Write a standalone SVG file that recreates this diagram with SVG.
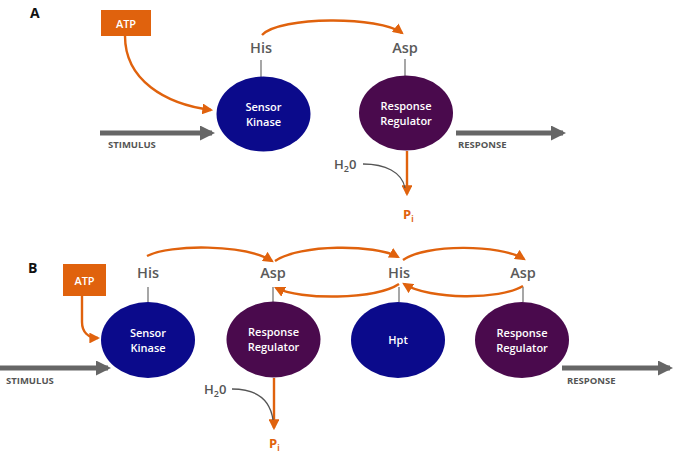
<svg xmlns="http://www.w3.org/2000/svg" width="677" height="456" viewBox="0 0 677 456">
<style>
.lbl{font-family:"Open Sans","Liberation Sans",sans-serif;font-weight:600;fill:#5a5a5a;font-size:14.5px;text-anchor:middle}
.nt{font-family:"Open Sans","Liberation Sans",sans-serif;font-weight:600;fill:#fff;font-size:11px;text-anchor:middle}
.cap{font-family:"Open Sans","Liberation Sans",sans-serif;font-weight:700;fill:#111;font-size:14px}
.io{font-family:"Open Sans","Liberation Sans",sans-serif;font-weight:700;fill:#555;font-size:9.5px}
.h2o{font-family:"Open Sans","Liberation Sans",sans-serif;font-weight:600;fill:#555;font-size:13px}
.pi{font-family:"Open Sans","Liberation Sans",sans-serif;font-weight:700;fill:#E0620D;font-size:13px}
.atp{font-family:"Open Sans","Liberation Sans",sans-serif;font-weight:600;fill:#fff;font-size:11px;text-anchor:middle}
.sk{fill:#0B0A8B}
.rr{fill:#4A0A4D}
.box{fill:#E0620D}
.o{fill:none;stroke:#E0620D;stroke-width:2.4}
.g{fill:none;stroke:#666;stroke-width:5}
.gt{fill:none;stroke:#555;stroke-width:1.3}
.tick{stroke:#777;stroke-width:1.3}
</style>
<defs>
<marker id="oa" viewBox="0 0 10 10" refX="8" refY="5" markerWidth="4.5" markerHeight="4.5" orient="auto" markerUnits="strokeWidth"><path d="M0,0 L10,5 L0,10 z" fill="#E0620D"/></marker>
<marker id="ga" viewBox="0 0 10 10" refX="8" refY="5" markerWidth="3.2" markerHeight="3" orient="auto" markerUnits="strokeWidth"><path d="M0,0 L10,5 L0,10 z" fill="#666"/></marker>
</defs>

<text class="cap" x="30" y="18">A</text>
<text class="cap" x="28" y="273">B</text>

<g id="connectors">
<!-- Panel A -->
<path class="o" d="M125,36 C125,80 165,104 211,110" marker-end="url(#oa)"/>
<path class="g" d="M100,133 L212,133" marker-end="url(#ga)"/>
<path class="g" d="M456,133 L563,133" marker-end="url(#ga)"/>
<path class="o" d="M262,35 C280,16 380,16 402,33" marker-end="url(#oa)"/>
<path class="o" d="M407,151 L407,194" marker-end="url(#oa)"/>
<path class="gt" d="M363,164 C385,164 402,172 405,188"/>
<line class="tick" x1="261" y1="60" x2="261" y2="77"/>
<line class="tick" x1="405" y1="59" x2="405" y2="76"/>
<!-- Panel B -->
<path class="o" d="M82,296 L82,322 C82,332 88,338 98,338" marker-end="url(#oa)"/>
<path class="g" d="M0,368 L108,368" marker-end="url(#ga)"/>
<path class="g" d="M562,368 L670,368" marker-end="url(#ga)"/>
<path class="o" d="M147,256 C170,244 245,244 272,261" marker-end="url(#oa)"/>
<path class="o" d="M275,261 C300,244 375,244 398,257" marker-end="url(#oa)"/>
<path class="o" d="M403,260 C425,244 500,244 524,259" marker-end="url(#oa)"/>
<path class="o" d="M399,284 C375,300 300,300 276,288" marker-end="url(#oa)"/>
<path class="o" d="M523,286 C500,300 430,300 404,284" marker-end="url(#oa)"/>
<path class="o" d="M274,378 L274,428" marker-end="url(#oa)"/>
<path class="gt" d="M232,389 C255,389 270,398 273,420"/>
<line class="tick" x1="148" y1="287" x2="148" y2="302"/>
<line class="tick" x1="273" y1="287" x2="273" y2="302"/>
<line class="tick" x1="399" y1="287" x2="399" y2="302"/>
<line class="tick" x1="523" y1="287" x2="523" y2="302"/>
</g>

<g id="atpA"><rect class="box" x="101" y="10" width="50" height="26"/><text class="atp" x="126" y="28">ATP</text></g>
<g id="skA"><ellipse class="sk" cx="263.5" cy="114" rx="47" ry="37.5"/><text class="nt" x="263.5" y="111">Sensor</text><text class="nt" x="263.5" y="126">Kinase</text></g>
<g id="rrA"><ellipse class="rr" cx="406" cy="113" rx="47" ry="37.5"/><text class="nt" x="406" y="110">Response</text><text class="nt" x="406" y="125">Regulator</text></g>
<g id="labelsA">
<text class="lbl" x="261" y="53">His</text>
<text class="lbl" x="405" y="53">Asp</text>
<text class="io" x="108" y="148">STIMULUS</text>
<text class="io" x="458" y="148">RESPONSE</text>
<text class="h2o" x="334" y="169">H<tspan font-size="9" dy="3">2</tspan><tspan dy="-3">0</tspan></text>
<text class="pi" x="403" y="219">P<tspan font-size="8" dy="3">i</tspan></text>
</g>

<g id="atpB"><rect class="box" x="63" y="264" width="43" height="32"/><text class="atp" x="84.5" y="285">ATP</text></g>
<g id="skB"><ellipse class="sk" cx="148" cy="340" rx="47" ry="38"/><text class="nt" x="148" y="337">Sensor</text><text class="nt" x="148" y="352">Kinase</text></g>
<g id="rrB1"><ellipse class="rr" cx="273.5" cy="339.5" rx="47" ry="38"/><text class="nt" x="273.5" y="336">Response</text><text class="nt" x="273.5" y="351">Regulator</text></g>
<g id="hptB"><ellipse class="sk" cx="398" cy="340" rx="47" ry="38"/><text class="nt" x="398" y="344">Hpt</text></g>
<g id="rrB2"><ellipse class="rr" cx="522" cy="340" rx="47" ry="38"/><text class="nt" x="522" y="337">Response</text><text class="nt" x="522" y="352">Regulator</text></g>
<g id="labelsB">
<text class="lbl" x="148" y="278">His</text>
<text class="lbl" x="273" y="278">Asp</text>
<text class="lbl" x="399" y="278">His</text>
<text class="lbl" x="523" y="278">Asp</text>
<text class="io" x="6" y="384">STIMULUS</text>
<text class="io" x="567" y="384">RESPONSE</text>
<text class="h2o" x="204" y="394">H<tspan font-size="9" dy="3">2</tspan><tspan dy="-3">0</tspan></text>
<text class="pi" x="269" y="448">P<tspan font-size="8" dy="3">i</tspan></text>
</g>
</svg>
